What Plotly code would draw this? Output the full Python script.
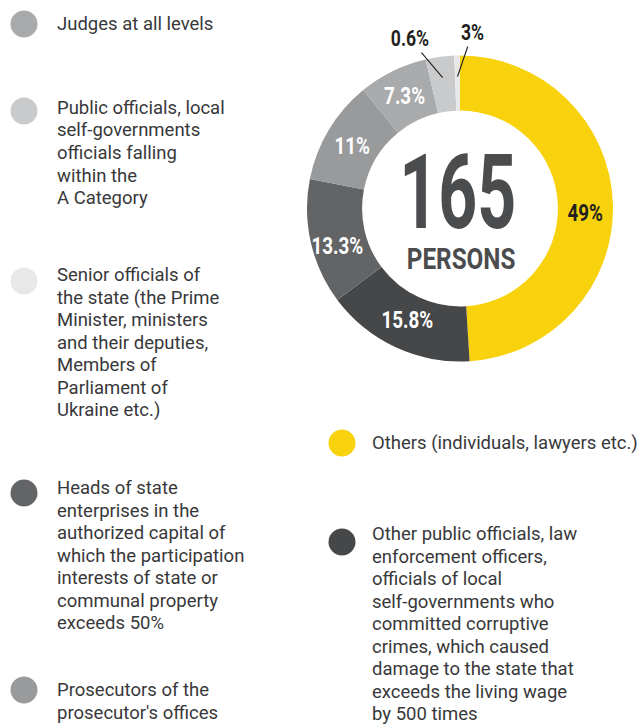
import math
import json
import plotly.graph_objects as go

W, H = 641, 724

# ---- data ----
slice_names = [
    "Others (individuals, lawyers etc.)",
    "Other public officials, law enforcement officers, officials of local self-governments who committed corruptive crimes, which caused damage to the state that exceeds the living wage by 500 times",
    "Heads of state enterprises in the authorized capital of which the participation interests of state or communal property exceeds 50%",
    "Prosecutors of the prosecutor's offices",
    "Judges at all levels",
    "Public officials, local self-governments officials falling within the A Category",
    "Senior officials of the state (the Prime Minister, ministers and their deputies, Members of Parliament of Ukraine etc.)",
]
slice_values = [49, 15.8, 13.3, 11, 7.3, 3, 0.6]
slice_labels = ["49%", "15.8%", "13.3%", "11%", "7.3%", "0.6%", "3%"]
slice_colors = ["#f8d20d", "#464749", "#636466", "#999a9c", "#a9aaac", "#c9cacc", "#e8e8e9"]
center_number = "165"
center_word = "PERSONS"

legend_lines = [
    ["Judges at all levels"],
    ["Public officials, local", "self-governments", "officials falling", "within the", "A Category"],
    ["Senior officials of", "the state (the Prime", "Minister, ministers", "and their deputies,",
     "Members of", "Parliament of", "Ukraine etc.)"],
    ["Heads of state", "enterprises in the", "authorized capital of", "which the participation",
     "interests of state or", "communal property", "exceeds 50%"],
    ["Prosecutors of the", "prosecutor's offices"],
    ["Others (individuals, lawyers etc.)"],
    ["Other public officials, law", "enforcement officers,", "officials of local",
     "self-governments who", "committed corruptive", "crimes, which caused",
     "damage to the state that", "exceeds the living wage", "by 500 times"],
]
legend_slice = [4, 5, 6, 2, 3, 0, 1]  # slice each legend entry refers to

# ---- layout (pixel positions / styles) ----
legend_pos = [  # (circle x, circle y, text x, first line centre y)
    (24, 24, 55, 24),
    (24, 111, 55, 108),
    (24, 281, 55, 275),
    (24, 493, 55, 488),
    (24, 690, 55, 690),
    (342, 443, 370, 443),
    (342, 542, 370, 534),
]
LINE = 22.5
CX, CY, R = 460, 208.5, 153
HOLE = 0.64
label_nudge = [8, -2, 10, 2, 0, 0, 0]          # vertical nudges of inside labels (px)
outside_offset = {5: (-33, -39), 6: (15, -44)}  # text offset of outside labels (px)
BOLD = "Roboto"
BODY = "Roboto"
FS = 18.5
DARK = "#4b4c4e"


def px(x):
    return x / W


def py(y):
    return 1 - y / H


fig = go.Figure()
fig.add_trace(go.Pie(
    labels=slice_names,
    values=slice_values,
    textinfo="none",
    marker=dict(colors=slice_colors, line=dict(width=0)),
    hole=HOLE,
    sort=False,
    direction="clockwise",
    rotation=0,
    showlegend=False,
    hoverinfo="label+percent",
    domain=dict(x=[px(CX - R), px(CX + R)], y=[py(CY + R), py(CY - R)]),
))

annotations = []
shapes = []
squeeze = {}  # annotation index -> horizontal compression factor (condensed look)


def add_ann(a, factor=None):
    if factor is not None:
        squeeze[len(annotations)] = factor
    annotations.append(a)


# centre text
add_ann(dict(x=px(CX - 3), y=py(CY - 16), xref="paper", yref="paper",
             text=center_number, showarrow=False,
             font=dict(family=BOLD, size=103, color=DARK, weight=700),
             xanchor="center", yanchor="middle"), 0.66)
add_ann(dict(x=px(CX + 1), y=py(CY + 50), xref="paper", yref="paper",
             text=center_word, showarrow=False,
             font=dict(family=BOLD, size=30, color=DARK, weight=700),
             xanchor="center", yanchor="middle"), 0.81)

# slice labels
total = sum(slice_values)
cum = 0
r_mid = R * (1 + HOLE) / 2
for i, v in enumerate(slice_values):
    mid = math.radians((cum + v / 2) / total * 360)
    cum += v
    if v >= 5:
        x = CX + r_mid * math.sin(mid)
        y = CY - r_mid * math.cos(mid) + label_nudge[i]
        col = "#231f20" if i == 0 else "#ffffff"
        add_ann(dict(x=px(x), y=py(y), xref="paper", yref="paper",
                     text=slice_labels[i], showarrow=False,
                     font=dict(family=BOLD, size=23.5, color=col, weight=700),
                     xanchor="center", yanchor="middle"), 0.8)
    else:
        rr = R - 21
        x = CX + rr * math.sin(mid)
        y = CY - rr * math.cos(mid)
        ax, ay = outside_offset[i]
        add_ann(dict(x=px(x), y=py(y), xref="paper", yref="paper",
                     text=slice_labels[i], showarrow=True,
                     arrowhead=0, arrowwidth=1.1, arrowcolor="#231f20",
                     ax=ax, ay=ay, standoff=0,
                     font=dict(family=BOLD, size=22, color="#231f20", weight=700)), 0.8)

# legend
for lines, si, (cx, cy, tx, ty) in zip(legend_lines, legend_slice, legend_pos):
    r = 13.5
    shapes.append(dict(type="circle", xref="paper", yref="paper",
                       x0=px(cx - r), x1=px(cx + r), y0=py(cy + r), y1=py(cy - r),
                       fillcolor=slice_colors[si], line=dict(width=0)))
    for k, ln in enumerate(lines):
        add_ann(dict(x=px(tx), y=py(ty + k * LINE), xref="paper", yref="paper",
                     text=ln, showarrow=False, align="left",
                     xanchor="left", yanchor="middle",
                     font=dict(family=BODY, size=FS, color="#38383a")))

fig.update_layout(
    width=W, height=H,
    margin=dict(l=0, r=0, t=0, b=0),
    paper_bgcolor="white", plot_bgcolor="white",
    annotations=annotations, shapes=shapes,
)

post = """
document.body.style.margin = '0';
var gd = document.getElementById('{plot_id}');
var F = %s;
function squeezeText() {
  gd.querySelectorAll('g.annotation').forEach(function (g) {
    var i = g.getAttribute('data-index');
    if (!(i in F)) return;
    var t = g.querySelector('text.annotation-text');
    if (!t || t.getAttribute('lengthAdjust')) return;
    var L = t.getComputedTextLength();
    var dw = L * (1 - F[i]);
    t.setAttribute('textLength', (L * F[i]).toFixed(2));
    t.setAttribute('lengthAdjust', 'spacingAndGlyphs');
    g.querySelectorAll('rect').forEach(function (r) {
      var w = parseFloat(r.getAttribute('width'));
      var x = parseFloat(r.getAttribute('x') || 0);
      if (isNaN(w)) return;
      r.setAttribute('width', Math.max(1, w - dw).toFixed(2));
      r.setAttribute('x', (x + dw / 2).toFixed(2));
    });
  });
}
squeezeText();
gd.on('plotly_afterplot', squeezeText);
""" % json.dumps({str(k): v for k, v in squeeze.items()})

fig.write_html("out.html", post_script=post, config={"displayModeBar": False})
